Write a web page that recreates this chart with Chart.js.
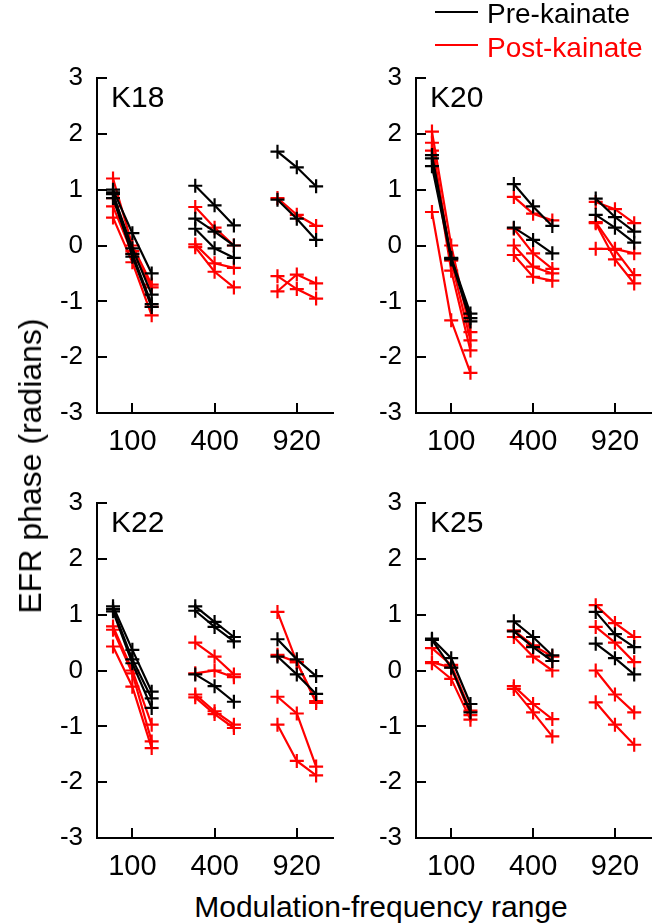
<!DOCTYPE html>
<html>
<head>
<meta charset="utf-8">
<script src="https://cdn.jsdelivr.net/npm/chart.js@4.4.1/dist/chart.umd.min.js"></script>
<style>
  body { margin: 0; background: #fff; font-family: Arial, "Liberation Sans", sans-serif; }
  #wrap { position: relative; width: 661px; height: 924px; overflow: hidden; }
  canvas { position: absolute; }
  .txt { position: absolute; font-size: 28px; line-height: 1; white-space: nowrap; color: #000; }
  .pan { font-size: 30px; }
  .key { position: absolute; height: 2px; width: 43px; }
</style>
</head>
<body>
<div id="wrap">
  <canvas id="c18" style="left:0px;top:60px" width="343" height="400"></canvas>
  <canvas id="c20" style="left:319px;top:60px" width="342" height="400"></canvas>
  <canvas id="c22" style="left:0px;top:485px" width="343" height="400"></canvas>
  <canvas id="c25" style="left:319px;top:485px" width="342" height="400"></canvas>

  <div class="txt pan" style="left:111px;top:82px">K18</div>
  <div class="txt pan" style="left:430px;top:82px">K20</div>
  <div class="txt pan" style="left:111px;top:507px">K22</div>
  <div class="txt pan" style="left:430px;top:507px">K25</div>

  <div class="txt" style="left:30px;top:466px;font-size:32px;transform:translate(-50%,-50%) rotate(-90deg)">EFR phase (radians)</div>
  <div class="txt" style="left:381px;top:892px;font-size:30px;transform:translateX(-50%)">Modulation-frequency range</div>

  <div class="key" style="left:435px;top:11px;background:#000"></div>
  <div class="txt" style="left:487px;top:0px">Pre-kainate</div>
  <div class="key" style="left:435px;top:44px;background:#ff0000"></div>
  <div class="txt" style="left:487px;top:34px;color:#ff0000">Post-kainate</div>
</div>
<script>
// x groups (modulation-frequency ranges)
var groupLabels = ['100', '400', '920'];
var groupCenters = [1, 2, 3];
var offsets = [-0.235, 0, 0.235];

// each row: [group index, phase low, phase mid, phase high] in radians
var k18Pre = [
  [0, 1.0, 0.22, -0.5], [0, 0.92, -0.05, -0.88], [0, 0.85, -0.15, -1.05], [0, 0.95, -0.2, -1.1],
  [1, 1.07, 0.72, 0.36], [1, 0.48, 0.25, 0.0], [1, 0.3, -0.05, -0.22],
  [2, 1.68, 1.4, 1.06], [2, 0.82, 0.48, 0.1]
];
var k18Post = [
  [0, 1.2, 0.0, -0.7], [0, 0.7, -0.15, -1.1], [0, 0.5, -0.3, -1.25], [0, 0.85, -0.1, -0.75],
  [1, 0.69, 0.32, 0.0], [1, 0.02, -0.32, -0.4], [1, -0.03, -0.47, -0.75],
  [2, 0.85, 0.55, 0.35], [2, -0.55, -0.78, -0.95], [2, -0.82, -0.52, -0.68]
];
var k20Pre = [
  [0, 1.62, -0.22, -1.22], [0, 1.56, -0.23, -1.3], [0, 1.42, -0.25, -1.36],
  [1, 1.1, 0.7, 0.35], [1, 0.32, 0.1, -0.14],
  [2, 0.84, 0.51, 0.25], [2, 0.55, 0.32, 0.05]
];
var k20Post = [
  [0, 2.04, 0.0, -1.55], [0, 1.84, -0.27, -1.7], [0, 1.7, -0.45, -1.88], [0, 0.6, -1.34, -2.28],
  [1, 0.87, 0.57, 0.45], [1, 0.3, -0.14, -0.42], [1, 0.0, -0.38, -0.5], [1, -0.17, -0.56, -0.63],
  [2, 0.78, 0.65, 0.4], [2, 0.42, -0.08, -0.53], [2, 0.4, -0.25, -0.68], [2, -0.06, -0.06, -0.14]
];
var k22Pre = [
  [0, 1.15, 0.37, -0.38], [0, 1.06, 0.13, -0.67], [0, 1.1, 0.2, -0.5],
  [1, 1.15, 0.87, 0.6], [1, 1.07, 0.78, 0.52], [1, -0.07, -0.28, -0.56],
  [2, 0.56, 0.2, -0.1], [2, 0.25, -0.07, -0.42]
];
var k22Post = [
  [0, 0.79, 0.0, -0.97], [0, 0.73, -0.05, -1.27], [0, 0.43, -0.29, -1.39],
  [1, 0.5, 0.25, -0.07], [1, -0.05, 0.0, -0.12], [1, -0.43, -0.73, -0.97], [1, -0.48, -0.78, -1.03],
  [2, 1.05, 0.15, -0.55], [2, 0.28, 0.15, -0.58], [2, -0.47, -0.77, -1.72], [2, -0.97, -1.62, -1.88]
];
var k25Pre = [
  [0, 0.57, 0.22, -0.6], [0, 0.55, 0.05, -0.75],
  [1, 0.88, 0.6, 0.27], [1, 0.7, 0.42, 0.17],
  [2, 1.05, 0.65, 0.42], [2, 0.48, 0.22, -0.07]
];
var k25Post = [
  [0, 0.4, 0.1, -0.72], [0, 0.15, 0.05, -0.8], [0, 0.13, -0.15, -0.88],
  [1, 0.72, 0.45, 0.25], [1, 0.6, 0.25, 0.0], [1, -0.28, -0.6, -0.87], [1, -0.33, -0.75, -1.18],
  [2, 1.17, 0.85, 0.6], [2, 0.78, 0.5, 0.15], [2, 0.0, -0.43, -0.75], [2, -0.57, -0.97, -1.33]
];

var yTicks = [-3, -2, -1, 0, 1, 2, 3];
var FONT = 'Arial, "Liberation Sans", sans-serif';

function toDatasets(rows, color) {
  return rows.map(function(r) {
    return {
      data: [1, 2, 3].map(function(k, i) {
        return { x: groupCenters[r[0]] + offsets[i], y: r[k] };
      }),
      borderColor: color,
      backgroundColor: color,
      borderWidth: 2.2,
      showLine: true,
      pointStyle: 'cross',
      pointRadius: 7,
      pointBorderWidth: 2.2,
      pointHoverRadius: 7
    };
  });
}

// short tick marks pointing into the plot, like the original figure
var inwardTicks = {
  id: 'inwardTicks',
  afterDraw: function(chart) {
    var ctx = chart.ctx, area = chart.chartArea;
    var xs = chart.scales.x, ys = chart.scales.y;
    ctx.save();
    ctx.strokeStyle = '#000';
    ctx.lineWidth = 2;
    ys.ticks.forEach(function(t) {
      var y = Math.round(ys.getPixelForValue(t.value));
      ctx.beginPath();
      ctx.moveTo(area.left, y);
      ctx.lineTo(area.left + 10, y);
      ctx.stroke();
    });
    xs.ticks.forEach(function(t) {
      var x = Math.round(xs.getPixelForValue(t.value));
      ctx.beginPath();
      ctx.moveTo(x, area.bottom);
      ctx.lineTo(x, area.bottom - 10);
      ctx.stroke();
    });
    ctx.restore();
  }
};

// keep tick labels from pushing the plot area around
function noEdgePadding(scale) {
  scale.paddingTop = 0;
  scale.paddingBottom = 0;
  scale.paddingLeft = 0;
  scale.paddingRight = 0;
}

function makePanel(id, pre, post) {
  var ctx = document.getElementById(id).getContext('2d');
  return new Chart(ctx, {
    type: 'scatter',
    data: { datasets: toDatasets(pre, '#000000').concat(toDatasets(post, '#ff0000')) },
    options: {
      responsive: false,
      animation: false,
      layout: { padding: { top: 18, right: 3, bottom: 0, left: 0 } },
      plugins: { legend: { display: false }, tooltip: { enabled: false } },
      scales: {
        x: {
          type: 'linear',
          min: 0.57,
          max: 3.45,
          afterBuildTicks: function(scale) {
            scale.ticks = groupCenters.map(function(v) { return { value: v }; });
          },
          afterFit: function(scale) { scale.height = 47; noEdgePadding(scale); },
          grid: { display: false, drawTicks: false },
          border: { display: true, color: '#000', width: 2 },
          ticks: {
            padding: 12,
            color: '#000',
            font: { family: FONT, size: 29 },
            maxRotation: 0,
            callback: function(v) { return groupLabels[groupCenters.indexOf(v)]; }
          }
        },
        y: {
          min: -3,
          max: 3,
          afterBuildTicks: function(scale) {
            scale.ticks = yTicks.map(function(v) { return { value: v }; });
          },
          afterFit: function(scale) { scale.width = 97; noEdgePadding(scale); },
          grid: { display: false, drawTicks: false },
          border: { display: true, color: '#000', width: 2 },
          ticks: {
            padding: 14,
            color: '#000',
            font: { family: FONT, size: 26 },
            callback: function(v) { return String(v); }
          }
        }
      }
    },
    plugins: [inwardTicks]
  });
}

makePanel('c18', k18Pre, k18Post);
makePanel('c20', k20Pre, k20Post);
makePanel('c22', k22Pre, k22Post);
makePanel('c25', k25Pre, k25Post);
</script>
</body>
</html>
